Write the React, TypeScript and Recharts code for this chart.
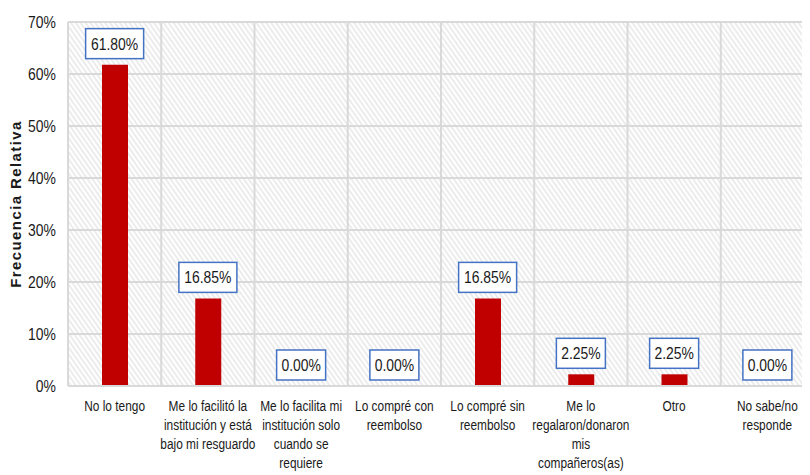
import React from 'react';
import { ComposedChart, Bar, Line, XAxis, YAxis, CartesianGrid } from 'recharts';

const categories: string[] = [
  'No lo tengo',
  'Me lo facilitó la institución y está bajo mi resguardo',
  'Me lo facilita mi institución solo cuando se requiere',
  'Lo compré con reembolso',
  'Lo compré sin reembolso',
  'Me lo regalaron/donaron mis compañeros(as)',
  'Otro',
  'No sabe/no responde',
];

const categoryLines: string[][] = [
  ['No lo tengo'],
  ['Me lo facilitó la', 'institución y está', 'bajo mi resguardo'],
  ['Me lo facilita mi', 'institución solo', 'cuando se', 'requiere'],
  ['Lo compré con', 'reembolso'],
  ['Lo compré sin', 'reembolso'],
  ['Me lo', 'regalaron/donaron', 'mis', 'compañeros(as)'],
  ['Otro'],
  ['No sabe/no', 'responde'],
];

const frecuenciaRelativa: number[] = [61.8, 16.85, 0, 0, 16.85, 2.25, 2.25, 0];

const yTicks: number[] = [0, 10, 20, 30, 40, 50, 60, 70];

const data = categories.map((c, i) => ({
  name: c,
  value: frecuenciaRelativa[i],
}));

const FONT = '"Liberation Sans", Arial, sans-serif';
const TEXT = '#1a1a1a';
const SX = 0.82;

const XTick = (props: any) => {
  const { x, y, payload } = props;
  const i = data.findIndex((d) => d.name === payload.value);
  const lines = i >= 0 ? categoryLines[i] : [String(payload.value)];
  return (
    <g transform={`translate(${x} ${y}) scale(${SX} 1)`}>
      <text x={0} y={0} textAnchor="middle" fontFamily={FONT} fontSize={14.5} fill={TEXT}>
        {lines.map((l, k) => (
          <tspan key={k} x={0} dy={k === 0 ? 17 : 19}>
            {l}
          </tspan>
        ))}
      </text>
    </g>
  );
};

const YTick = (props: any) => {
  const { x, y, payload } = props;
  return (
    <g transform={`translate(${x} ${y}) scale(${SX} 1)`}>
      <text x={0} y={0} dy={6} textAnchor="end" fontFamily={FONT} fontSize={17} fill={TEXT}>
        {`${payload.value}%`}
      </text>
    </g>
  );
};

const BoxDot = (props: any) => {
  const { cx, cy, payload } = props;
  if (cx == null || cy == null) return <g />;
  const txt = `${Number(payload.value).toFixed(2)}%`;
  const w = txt.length * 9 + 4;
  const h = 30;
  const bottom = Number(cy) - 6;
  return (
    <g key={`lbl-${payload.name}`}>
      <rect x={cx - w / 2} y={bottom - h} width={w} height={h} fill="#ffffff" stroke="#4472C4" strokeWidth={1.5} />
      <g transform={`translate(${cx} ${bottom - h / 2 + 6}) scale(${SX} 1)`}>
        <text x={0} y={0} textAnchor="middle" fontFamily={FONT} fontSize={17} fill={TEXT}>
          {txt}
        </text>
      </g>
    </g>
  );
};

const YTitle = (props: any) => {
  const vb = props.viewBox || { x: 0, y: 22, width: 68, height: 364 };
  const cx = 15;
  const cy = vb.y + vb.height / 2;
  return (
    <text
      x={cx}
      y={cy}
      transform={`rotate(-90 ${cx} ${cy})`}
      textAnchor="middle"
      dominantBaseline="central"
      fontFamily={FONT}
      fontWeight="bold"
      fontSize={15}
      letterSpacing={1.4}
      fill={TEXT}
    >
      Frecuencia Relativa
    </text>
  );
};

export default function App() {
  return (
    <div style={{ margin: '-8px 0 0 -8px', width: 810, height: 475, overflow: 'hidden', background: '#fff' }}>
      <ComposedChart
        width={830}
        height={475}
        data={data}
        margin={{ top: 22, right: 16, bottom: 0, left: 0 }}
        barSize={26}
      >
        <defs>
          <pattern id="hatch" width="4" height="4" patternUnits="userSpaceOnUse" patternTransform="rotate(-35)">
            <rect x="0" y="0" width="4" height="4" fill="#ffffff" />
            <line x1="1" y1="0" x2="1" y2="4" stroke="#e0e0e0" strokeWidth="1.2" />
          </pattern>
        </defs>
        <CartesianGrid
          fill="url(#hatch)"
          stroke="#d9d9d9"
          strokeWidth={2}
          verticalCoordinatesGenerator={({ offset }: any) =>
            categories
              .map((_, i) => offset.left + (i * offset.width) / categories.length)
              .concat([offset.left + offset.width])
          }
        />
        <XAxis
          dataKey="name"
          interval={0}
          tickLine={false}
          axisLine={{ stroke: '#d9d9d9', strokeWidth: 2 }}
          height={89}
          tick={<XTick />}
        />
        <YAxis
          width={68}
          domain={[0, 70]}
          ticks={yTicks}
          interval={0}
          tickLine={false}
          axisLine={false}
          tickMargin={6}
          tick={<YTick />}
          label={<YTitle />}
        />
        <Bar dataKey="value" fill="#C00000" isAnimationActive={false} />
        <Line
          dataKey="value"
          stroke="none"
          dot={<BoxDot />}
          activeDot={false}
          isAnimationActive={false}
          legendType="none"
        />
      </ComposedChart>
    </div>
  );
}
